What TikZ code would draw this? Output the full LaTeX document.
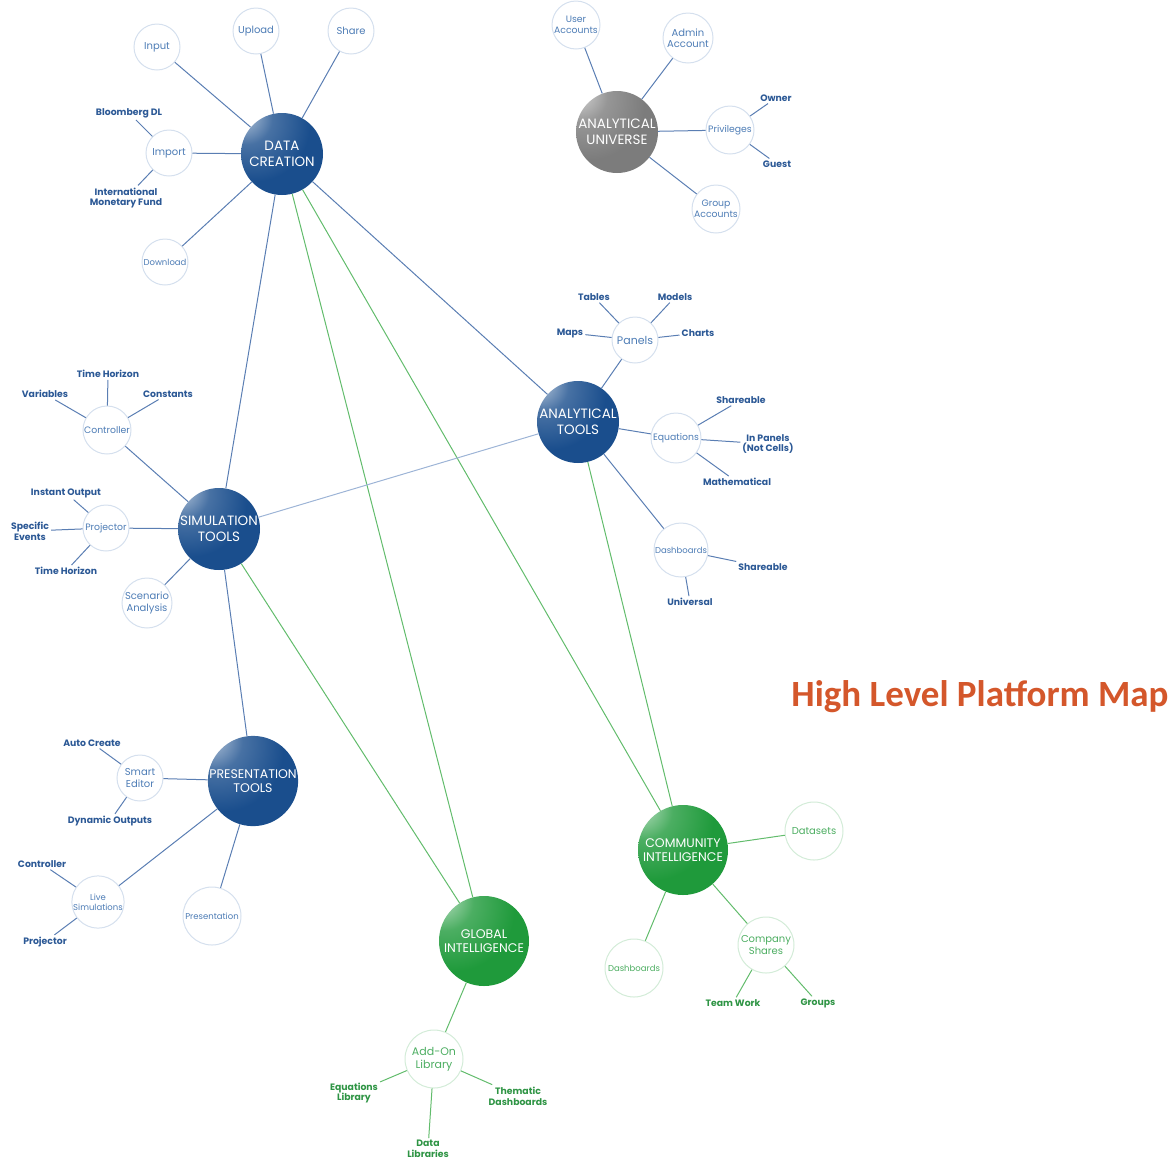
\documentclass[tikz,border=0pt]{standalone}
\usepackage{fontspec}
\setmainfont{Poppins}
\newfontfamily\titlefont{Carlito}

\definecolor{hubblue}{HTML}{1A4E8D}
\definecolor{hubgreen}{HTML}{1F9A3B}
\definecolor{hubgray}{HTML}{7C7C7C}
\definecolor{sattext}{HTML}{4E7DB6}
\definecolor{satedge}{HTML}{D5E0EE}
\definecolor{leafblue}{HTML}{2B5895}
\definecolor{linkblue}{HTML}{5A7EB3}
\definecolor{linklight}{HTML}{9DB4D6}
\definecolor{gsattext}{HTML}{4DAE62}
\definecolor{gsatedge}{HTML}{D3ECD8}
\definecolor{leafgreen}{HTML}{2E9444}
\definecolor{linkgreen}{HTML}{62BC6C}
\definecolor{titlered}{HTML}{D4572B}

\pgfdeclareradialshading{blueball}{\pgfpoint{-26bp}{26bp}}{color(0bp)=(hubblue!25!white); color(16bp)=(hubblue!80!white); color(34bp)=(hubblue); color(100bp)=(hubblue)}
\pgfdeclareradialshading{greenball}{\pgfpoint{-26bp}{26bp}}{color(0bp)=(hubgreen!25!white); color(16bp)=(hubgreen!80!white); color(34bp)=(hubgreen); color(100bp)=(hubgreen)}
\pgfdeclareradialshading{grayball}{\pgfpoint{-26bp}{26bp}}{color(0bp)=(hubgray!25!white); color(16bp)=(hubgray!80!white); color(34bp)=(hubgray); color(100bp)=(hubgray)}

\tikzset{
	hub/.style={circle, inner sep=0pt, minimum size=82pt, align=center, text=white, font=\fontsize{13.5}{15.5}\selectfont},
	bighub/.style={hub, minimum size=90pt, font=\fontsize{12.5}{14.5}\selectfont},
	bluehub/.style={shade, shading=blueball},
	greenhub/.style={shade, shading=greenball},
	grayhub/.style={shade, shading=grayball},
	sat/.style={circle, draw=satedge, line width=1pt, fill=white, inner sep=0pt, minimum size=46pt, align=center, text=sattext, font=\fontsize{10}{11.5}\selectfont},
	gsat/.style={sat, draw=gsatedge, text=gsattext},
	small/.style={font=\fontsize{8.5}{10}\selectfont},
	mid/.style={font=\fontsize{9.3}{10.8}\selectfont},
	leaf/.style={inner sep=2pt, align=center, text=leafblue, font=\bfseries\fontsize{9.3}{10.8}\selectfont},
	gleaf/.style={leaf, text=leafgreen},
	link/.style={-, draw=linkblue, line width=1pt},
	glink/.style={-, draw=linkgreen, line width=1pt},
	lightlink/.style={-, draw=linklight, line width=1pt}
}

\begin{document}
\begin{tikzpicture}[x=1pt, y=-1pt]
	\useasboundingbox (0,0) rectangle (1173,1160);

	\node[hub, bluehub] (DC) at (282,154) {DATA\\CREATION};
	\node[hub, grayhub] (AU) at (617,132) {ANALYTICAL\\UNIVERSE};
	\node[hub, bluehub] (AT) at (578,422) {ANALYTICAL\\TOOLS};
	\node[hub, bluehub] (ST) at (219,529) {SIMULATION\\TOOLS};
	\node[bighub, bluehub] (PT) at (253,781) {PRESENTATION\\TOOLS};
	\node[bighub, greenhub] (CI) at (683,850) {COMMUNITY\\INTELLIGENCE};
	\node[bighub, greenhub] (GI) at (484,941) {GLOBAL\\INTELLIGENCE};

	\node[sat] (IN) at (157,47) {Input};
	\node[sat] (UP) at (256,31) {Upload};
	\node[sat] (SH) at (351,31) {Share};
	\node[sat] (IM) at (169,153) {Import};
	\node[sat, small] (DL) at (165,262) {Download};
	\node[leaf] (BL) at (129,113) {Bloomberg DL};
	\node[leaf] (IMF) at (126,198) {International\\Monetary Fund};

	\node[sat, mid, minimum size=48pt] (UA) at (576,25) {User\\Accounts};
	\node[sat, minimum size=50pt] (AA) at (688,38) {Admin\\Account};
	\node[sat, mid, minimum size=48pt] (PV) at (730,130) {Privileges};
	\node[sat, mid, minimum size=48pt] (GA) at (716,209) {Group\\Accounts};
	\node[leaf] (OW) at (776,98) {Owner};
	\node[leaf] (GU) at (777,164) {Guest};

	\node[sat, font=\fontsize{11}{13}\selectfont] (PA) at (635,340) {Panels};
	\node[sat, mid, minimum size=50pt] (EQ) at (676,438) {Equations};
	\node[sat, small, minimum size=54pt] (DB) at (681,550) {Dashboards};
	\node[leaf] (TA) at (594,297) {Tables};
	\node[leaf] (MO) at (675,297) {Models};
	\node[leaf] (MA) at (570,333) {Maps};
	\node[leaf] (CH) at (698,333) {Charts};
	\node[leaf] (SHE) at (741,400) {Shareable};
	\node[leaf] (IP) at (768,444) {In Panels\\(Not Cells)};
	\node[leaf] (MT) at (737,482) {Mathematical};
	\node[leaf] (SHD) at (763,567) {Shareable};
	\node[leaf] (UN) at (690,602) {Universal};

	\node[sat, mid, minimum size=48pt] (CO) at (107,430) {Controller};
	\node[sat, mid] (PR) at (106,528) {Projector};
	\node[sat, minimum size=50pt] (SA) at (147,603) {Scenario\\Analysis};
	\node[leaf] (TH) at (108,374) {Time Horizon};
	\node[leaf] (VA) at (45,394) {Variables};
	\node[leaf] (CT) at (168,394) {Constants};
	\node[leaf] (IO) at (66,493) {Instant Output};
	\node[leaf] (SP) at (30,531) {Specific\\Events};
	\node[leaf] (TP) at (66,571) {Time Horizon};

	\node[sat] (SE) at (140,778) {Smart\\Editor};
	\node[sat, small, minimum size=50pt] (LS) at (98,902) {Live\\Simulations};
	\node[sat, small, minimum size=58pt] (PN) at (212,916) {Presentation};
	\node[leaf] (AC) at (92,743) {Auto Create};
	\node[leaf] (DO) at (110,821) {Dynamic Outputs};
	\node[leaf] (LC) at (42,864) {Controller};
	\node[leaf] (LP) at (45,942) {Projector};

	\node[gsat, minimum size=58pt] (DS) at (814,831) {Datasets};
	\node[gsat, small, minimum size=58pt] (DG) at (634,968) {Dashboards};
	\node[gsat, minimum size=56pt] (CS) at (766,945) {Company\\Shares};
	\node[gleaf] (TW) at (733,1003) {Team Work};
	\node[gleaf] (GR) at (818,1003) {Groups};

	\node[gsat, font=\fontsize{11}{13}\selectfont, minimum size=58pt] (AO) at (434,1059) {Add-On\\Library};
	\node[gleaf] (EL) at (354,1093) {Equations\\Library};
	\node[gleaf] (DLB) at (428,1149) {Data\\Libraries};
	\node[gleaf] (TD) at (518,1096) {Thematic\\Dashboards};

	\node[text=titlered, font=\titlefont\bfseries\fontsize{37}{40}\selectfont] (TI) at (980,697) {High Level Platform Map};

	\path (DC) edge[link] (AT);
	\path (DC) edge[link] (ST);
	\path (DC) edge[glink] (GI);
	\path (DC) edge[glink] (CI);
	\path (AT) edge[lightlink] (ST);
	\path (AT) edge[glink] (CI);
	\path (ST) edge[link] (PT);
	\path (ST) edge[glink] (GI);

	\path (DC) edge[link] (IN);
	\path (DC) edge[link] (UP);
	\path (DC) edge[link] (SH);
	\path (DC) edge[link] (IM);
	\path (DC) edge[link] (DL);
	\path (IM) edge[link] (BL);
	\path (IM) edge[link] (IMF);

	\path (AU) edge[link] (UA);
	\path (AU) edge[link] (AA);
	\path (AU) edge[link] (PV);
	\path (AU) edge[link] (GA);
	\path (PV) edge[link] (OW);
	\path (PV) edge[link] (GU);

	\path (AT) edge[link] (PA);
	\path (AT) edge[link] (EQ);
	\path (AT) edge[link] (DB);
	\path (PA) edge[link] (TA);
	\path (PA) edge[link] (MO);
	\path (PA) edge[link] (MA);
	\path (PA) edge[link] (CH);
	\path (EQ) edge[link] (SHE);
	\path (EQ) edge[link] (IP);
	\path (EQ) edge[link] (MT);
	\path (DB) edge[link] (SHD);
	\path (DB) edge[link] (UN);

	\path (ST) edge[link] (CO);
	\path (ST) edge[link] (PR);
	\path (ST) edge[link] (SA);
	\path (CO) edge[link] (TH);
	\path (CO) edge[link] (VA);
	\path (CO) edge[link] (CT);
	\path (PR) edge[link] (IO);
	\path (PR) edge[link] (SP);
	\path (PR) edge[link] (TP);

	\path (PT) edge[link] (SE);
	\path (PT) edge[link] (LS);
	\path (PT) edge[link] (PN);
	\path (SE) edge[link] (AC);
	\path (SE) edge[link] (DO);
	\path (LS) edge[link] (LC);
	\path (LS) edge[link] (LP);

	\path (CI) edge[glink] (DS);
	\path (CI) edge[glink] (DG);
	\path (CI) edge[glink] (CS);
	\path (CS) edge[glink] (TW);
	\path (CS) edge[glink] (GR);

	\path (GI) edge[glink] (AO);
	\path (AO) edge[glink] (EL);
	\path (AO) edge[glink] (DLB);
	\path (AO) edge[glink] (TD);
\end{tikzpicture}
\end{document}
